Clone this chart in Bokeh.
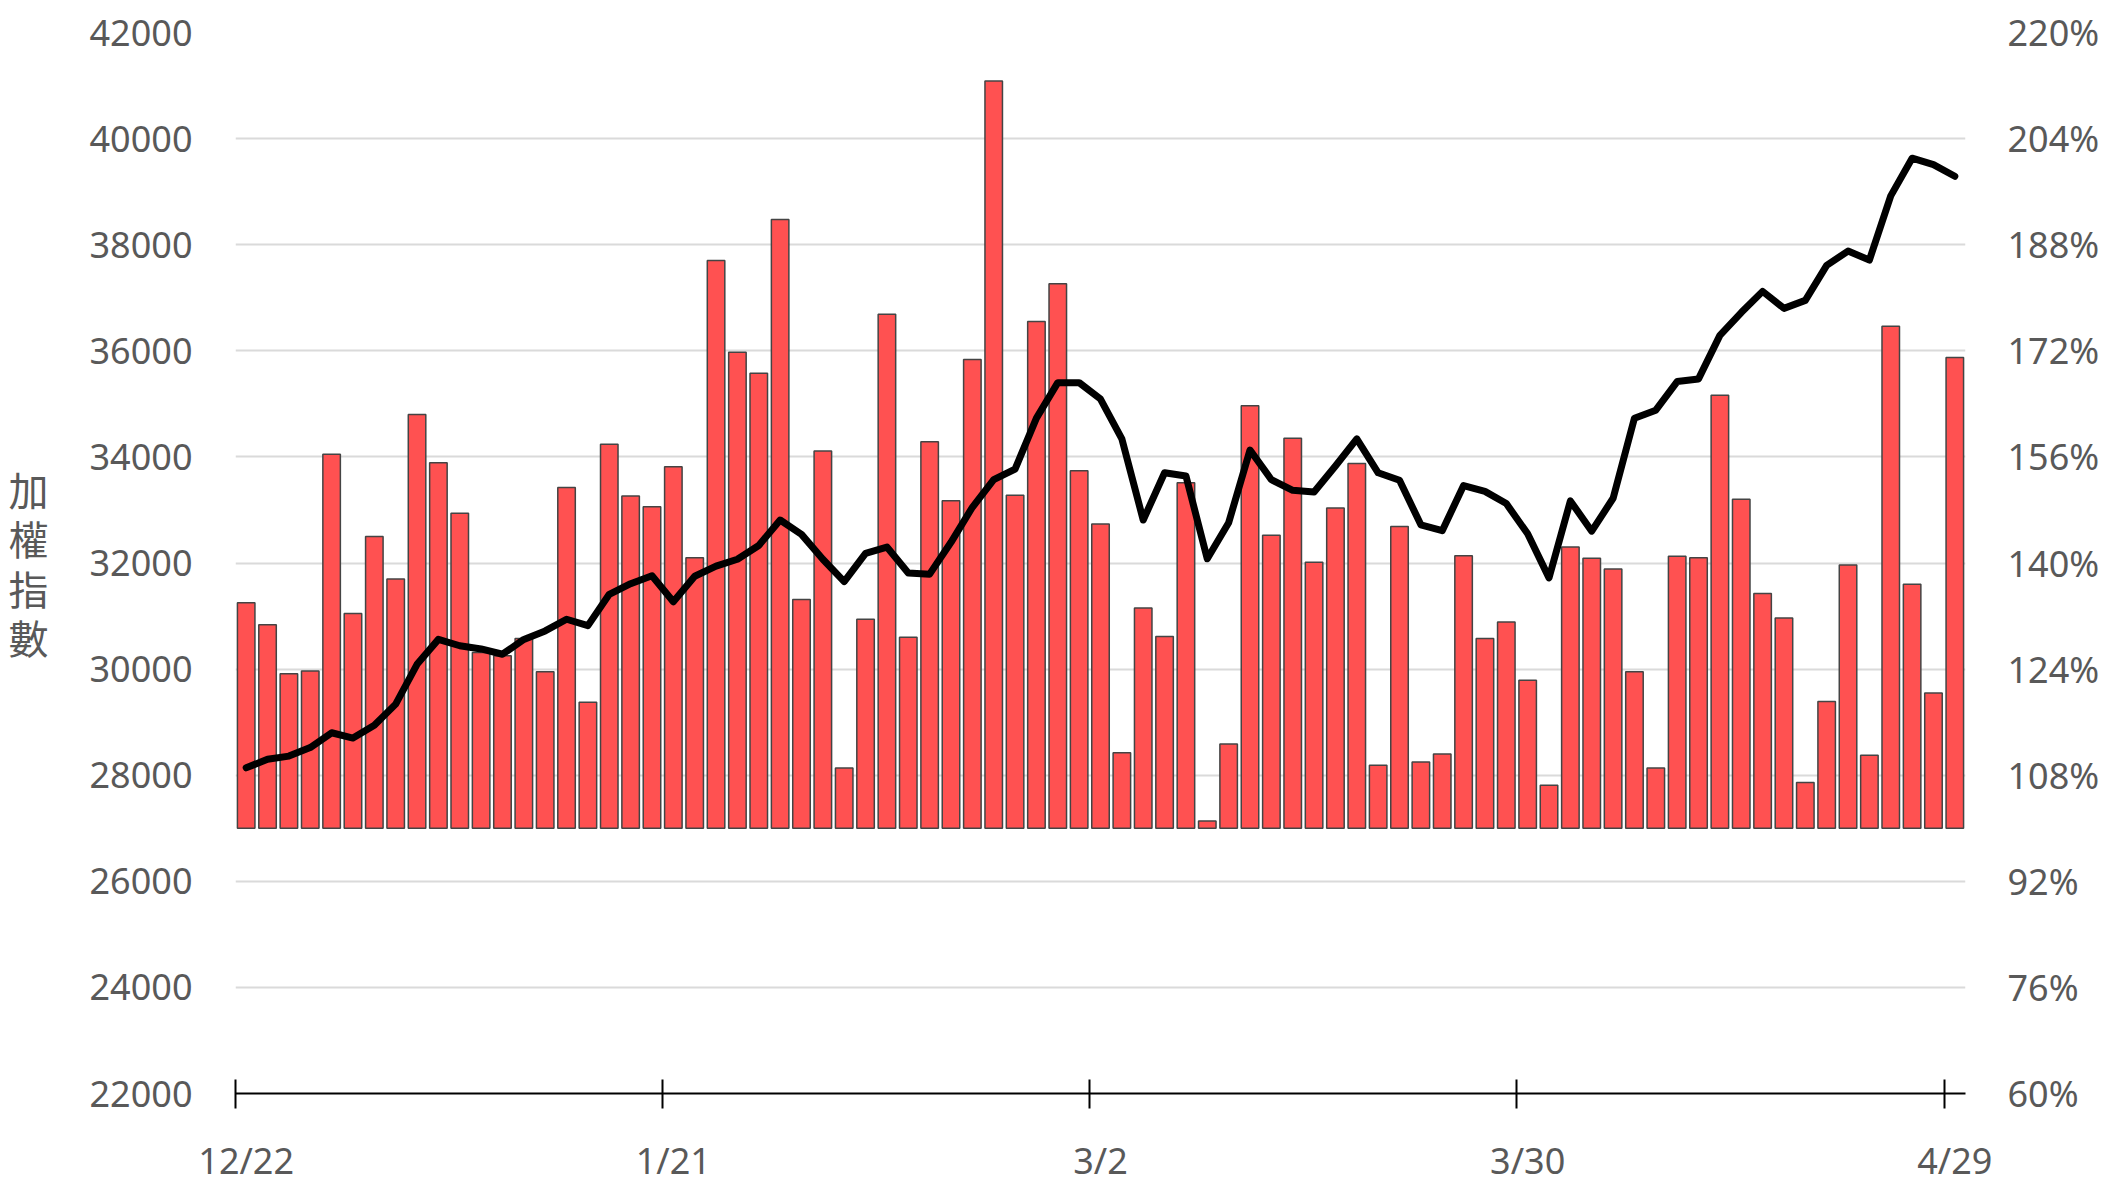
from bokeh.plotting import figure
from bokeh.models import (Range1d, LinearAxis, FixedTicker, PrintfTickFormatter,
                          BasicTickFormatter, ColumnDataSource)
from bokeh.embed import file_html
from bokeh.resources import INLINE

# ---- data ----
# daily ratio shown as bars on the right (%) axis, baseline 100%
ratio_pct = [134.0, 130.7, 123.3, 123.7, 156.4, 132.4, 144.0, 137.6, 162.4, 155.1,
             147.5, 126.5, 126.0, 128.6, 123.6, 151.4, 119.0, 157.9, 150.1, 148.5,
             154.5, 140.8, 185.6, 171.8, 168.6, 191.8, 134.5, 156.9, 109.1, 131.5,
             177.5, 128.8, 158.3, 149.4, 170.7, 212.7, 150.2, 176.4, 182.1, 153.9,
             145.9, 111.4, 133.2, 128.9, 152.1, 101.1, 112.7, 163.7, 144.2, 158.8,
             140.1, 148.3, 155.0, 109.5, 145.5, 110.0, 111.2, 141.1, 128.6, 131.1,
             122.3, 106.5, 142.4, 140.7, 139.1, 123.6, 109.1, 141.0, 140.8, 165.3,
             149.6, 135.4, 131.7, 106.9, 119.1, 139.7, 111.0, 175.7, 136.8, 120.4,
             171.0]

# weighted index (加權指數) on the left axis
index_level = [28140, 28300, 28360, 28520, 28800, 28700, 28940, 29340, 30090, 30560,
               30440, 30380, 30280, 30560, 30720, 30940, 30820, 31410, 31610, 31760,
               31270, 31750, 31940, 32070, 32330, 32810, 32540, 32070, 31650, 32180,
               32300, 31810, 31790, 32390, 33050, 33570, 33770, 34730, 35400, 35400,
               35090, 34340, 32810, 33700, 33640, 32080, 32760, 34130, 33570, 33370,
               33340, 33830, 34340, 33700, 33560, 32720, 32610, 33460, 33350, 33120,
               32550, 31720, 33170, 32600, 33220, 34730, 34880, 35420, 35470, 36290,
               36720, 37120, 36800, 36950, 37610, 37880, 37710, 38920, 39630, 39510,
               39290]

tick_labels = ["12/22", "1/21", "3/2", "3/30", "4/29"]
tick_every = 20

left_ticks = list(range(22000, 42001, 2000))
right_ticks = list(range(60, 221, 16))

# ---- figure ----
n = len(ratio_pct)
idx = list(range(n))
label_pos = [i * tick_every for i in range(len(tick_labels))]
edge_pos = [i - 0.5 for i in label_pos]

src = ColumnDataSource(dict(x=idx, pct=ratio_pct, lvl=index_level))

FONT = "Noto Sans"
GREY = "#595959"

p = figure(frame_width=1730, frame_height=1061, output_backend="svg",
           toolbar_location=None,
           x_range=Range1d(-0.5, n - 0.5), y_range=Range1d(22000, 42000),
           x_axis_location=None,
           min_border_left=235, min_border_right=135, min_border_top=32,
           min_border_bottom=0)
p.outline_line_color = None
p.background_fill_color = "white"
p.border_fill_color = "white"

p.extra_y_ranges = {"pct": Range1d(60, 220)}

# grid
p.xgrid.visible = False
p.ygrid.ticker = FixedTicker(ticks=left_ticks)
p.ygrid.grid_line_color = "#dadada"
p.ygrid.grid_line_width = 2

# left axis
ya = p.yaxis[0]
ya.ticker = FixedTicker(ticks=left_ticks)
ya.formatter = BasicTickFormatter(use_scientific=False)
ya.axis_line_color = None
ya.major_tick_line_color = None
ya.minor_tick_line_color = None
ya.major_tick_in = 0
ya.major_tick_out = 0
ya.major_label_standoff = 43
ya.major_label_text_font = FONT
ya.major_label_text_font_size = "36px"
ya.major_label_text_color = GREY
ya.axis_label = "加\n權\n指\n數"
ya.axis_label_orientation = "horizontal"
ya.axis_label_text_font = "Noto Sans CJK TC"
ya.axis_label_text_font_size = "40px"
ya.axis_label_text_font_style = "normal"
ya.axis_label_text_color = GREY
ya.axis_label_text_line_height = 0.85
ya.axis_label_standoff = 38

# right axis
ra = LinearAxis(y_range_name="pct", ticker=FixedTicker(ticks=right_ticks),
                formatter=PrintfTickFormatter(format="%d%%"))
ra.axis_line_color = None
ra.major_tick_line_color = None
ra.minor_tick_line_color = None
ra.major_tick_in = 0
ra.major_tick_out = 0
ra.major_label_standoff = 42
ra.major_label_text_font = FONT
ra.major_label_text_font_size = "36px"
ra.major_label_text_color = GREY
p.add_layout(ra, "right")

# bottom axis: labels centred on bars, tick marks (minor) at band edges
bx = LinearAxis(ticker=FixedTicker(ticks=label_pos, minor_ticks=edge_pos),
                major_label_overrides={float(k): v for k, v in zip(label_pos, tick_labels)})
bx.axis_line_color = "black"
bx.axis_line_width = 2
bx.major_tick_line_color = None
bx.major_tick_in = 0
bx.major_tick_out = 0
bx.minor_tick_line_color = "black"
bx.minor_tick_line_width = 2
bx.minor_tick_in = 14
bx.minor_tick_out = 15
bx.major_label_standoff = 27
bx.major_label_text_font = FONT
bx.major_label_text_font_size = "36px"
bx.major_label_text_color = GREY
p.add_layout(bx, "below")

# bars
p.vbar(x="x", top="pct", bottom=100, width=0.82, source=src, y_range_name="pct",
       fill_color="#FF5151", line_color="#444444", line_width=1.5)

# index line
p.line(x="x", y="lvl", source=src, line_color="black", line_width=7,
       line_join="round", line_cap="round")

open("out.html", "w").write(file_html(p, INLINE))
